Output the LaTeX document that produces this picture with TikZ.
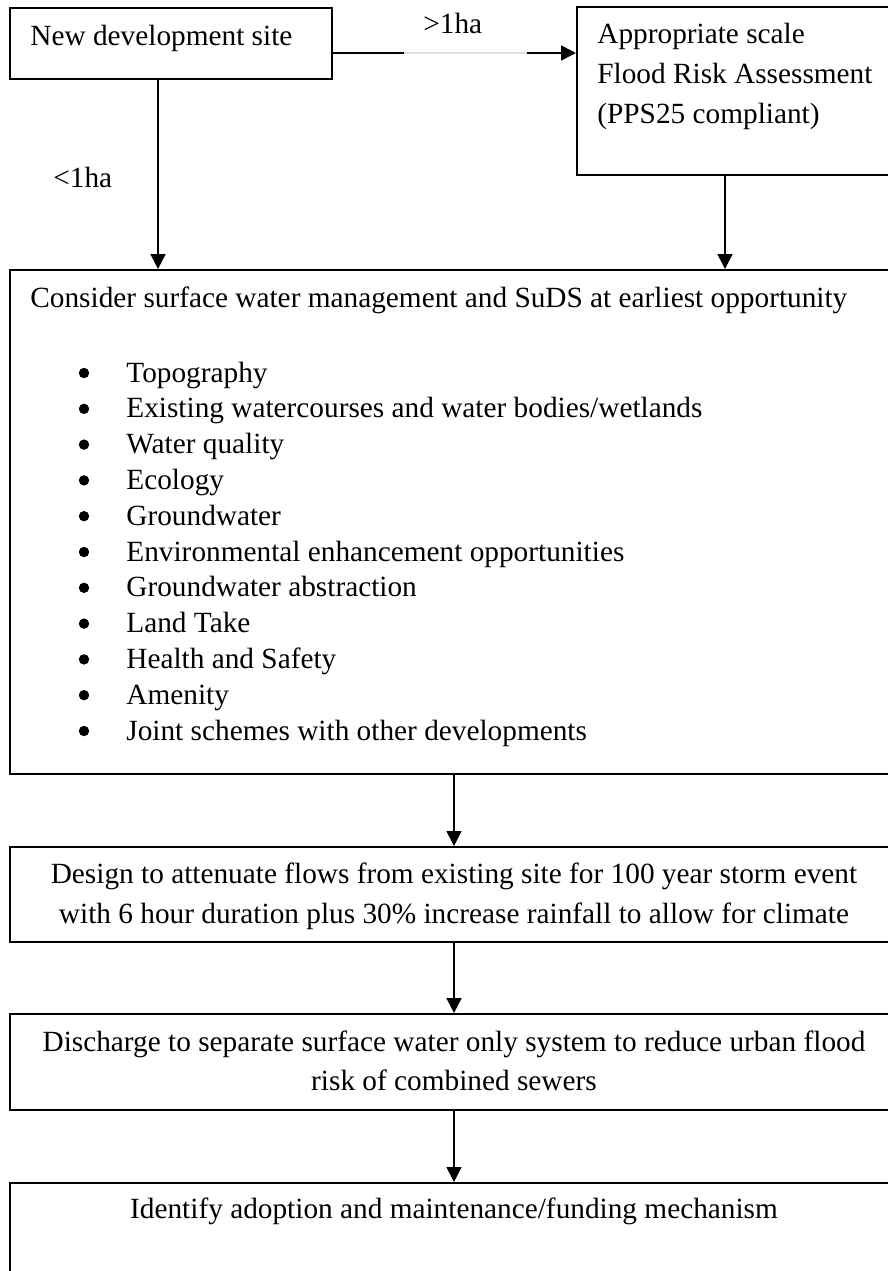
\documentclass[tikz,border=0pt]{standalone}
\usepackage{fontspec}
\setmainfont{Liberation Serif}
\usetikzlibrary{arrows.meta, positioning}

\begin{document}
\begin{tikzpicture}[x=0.5pt, y=-0.5pt,
    box/.style={draw, line width=0.8pt, anchor=north west, inner sep=0pt},
    txt/.style={font=\fontsize{14.65}{17}\selectfont, inner sep=0pt},
    bullet/.style={circle, fill, inner sep=0pt, minimum size=5.2pt},
    link/.style={-{Triangle[width=7.5pt,length=7.5pt]}, line width=0.8pt}]
    \useasboundingbox (0,0) rectangle (888,1271);
    % boxes
    \node[box, minimum width=161pt, minimum height=35.5pt] (site) at (9,7) {};
    \node[box, minimum width=162pt, minimum height=84pt] (fra) at (576,6) {};
    \node[box, minimum width=445.5pt, minimum height=252pt] (consider) at (9,269) {};
    \node[box, minimum width=445.5pt, minimum height=47.5pt] (design) at (9,846) {};
    \node[box, minimum width=445.5pt, minimum height=48pt] (discharge) at (9,1013) {};
    \node[box, minimum width=445.5pt, minimum height=80pt] (adopt) at (9,1182) {};
    % connectors
    \coordinate (c1) at (158,0);
    \coordinate (c2) at (725,0);
    \coordinate (c3) at (454,0);
    \coordinate (g1) at (404,53);
    \coordinate (g2) at (527,53);
    \draw[line width=0.8pt] (site.east |- g1) -- (g1);
    \draw[gray!25, line width=0.8pt] (g1) -- (g2);
    \draw[link] (g2) -- (g2 -| fra.west);
    \draw[link] (site.south -| c1) -- (consider.north -| c1);
    \draw[link] (fra.south -| c2) -- (consider.north -| c2);
    \draw[link] (consider.south -| c3) -- (design.north -| c3);
    \draw[link] (design.south -| c3) -- (discharge.north -| c3);
    \draw[link] (discharge.south -| c3) -- (adopt.north -| c3);
    \node[txt, anchor=base west] (gt) at (423,33) {>1ha};
    \node[txt, anchor=base west] (lt) at (53,187) {<1ha};
    % texts
    \node[txt, anchor=base west] (siteText) at (30,45) {New development site};
    \foreach \t [count=\k] in {Appropriate scale, Flood Risk Assessment, {(PPS25 compliant)}}
        \node[txt, anchor=base west] (fra\k) at (597,3+40*\k) {\t};
    \node[txt, anchor=base west] (considerText) at (30,307) {Consider surface water management and SuDS at earliest opportunity};
    \foreach \t [count=\k] in {Topography, Existing watercourses and water bodies/wetlands, Water quality, Ecology, Groundwater, Environmental enhancement opportunities, Groundwater abstraction, Land Take, Health and Safety, Amenity, Joint schemes with other developments} {
        \node[bullet] (dot\k) at (84,337.2+35.8*\k) {};
        \node[txt, anchor=base west] (item\k) at (126,346.2+35.8*\k) {\t};
    }
    \node[txt, anchor=base] (design1) at (454,883) {Design to attenuate flows from existing site for 100 year storm event};
    \node[txt, anchor=base] (design2) at (454,923) {with 6 hour duration plus 30\% increase rainfall to allow for climate};
    \node[txt, anchor=base] (discharge1) at (454,1051) {Discharge to separate surface water only system to reduce urban flood};
    \node[txt, anchor=base] (discharge2) at (454,1090) {risk of combined sewers};
    \node[txt, anchor=base] (adoptText) at (454,1218) {Identify adoption and maintenance/funding mechanism};
\end{tikzpicture}
\end{document}
